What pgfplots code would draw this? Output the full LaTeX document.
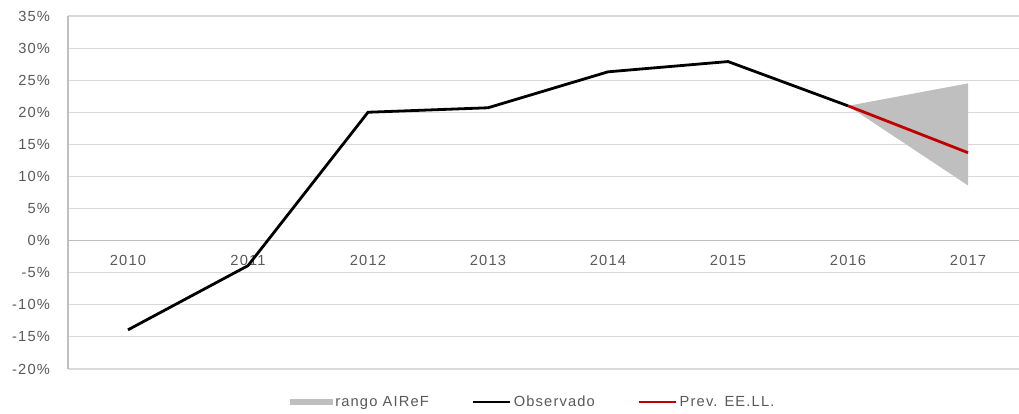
\documentclass[border=0pt]{standalone}
\usepackage{pgfplots}
\pgfplotsset{compat=1.18}
\usepackage{fontspec}
\setmainfont{Liberation Sans}[LetterSpace=8]
\usetikzlibrary{calc}
\definecolor{txtgray}{HTML}{595959}
\definecolor{gridgray}{HTML}{D9D9D9}
\definecolor{axgray}{HTML}{BFBFBF}
\definecolor{bandgray}{HTML}{BFBFBF}
\definecolor{prevred}{HTML}{C00000}

\begin{document}
\begin{tikzpicture}
\begin{axis}[
  scale only axis,
  width=713.25pt, height=264.75pt,
  font=\fontsize{11}{13}\selectfont,
  /pgf/number format/assume math mode=true,
  xmin=-0.5, xmax=7.425,
  ymin=-20, ymax=35,
  axis x line*=middle, axis y line*=left,
  hide obscured x ticks=false, hide obscured y ticks=false,
  axis line style={draw=axgray, line width=0.8pt, -},
  xtick={0,...,7},
  xticklabels={2010,2011,2012,2013,2014,2015,2016,2017},
  ytick={-20,-15,...,35},
  yticklabels={-20\%,-15\%,-10\%,-5\%,0\%,5\%,10\%,15\%,20\%,25\%,30\%,35\%},
  major tick length=0pt,
  tick label style={text=txtgray},
  xticklabel style={yshift=-7.5pt},
  yticklabel style={xshift=-10pt},
  ymajorgrids, grid style={gridgray, line width=0.8pt},
  legend style={at={(0.4895,-0.0935)}, anchor=center, draw=none, fill=none,
    legend columns=3, text=txtgray,
    /tikz/every even column/.append style={column sep=30pt}},
  legend cell align=left,
  legend image code/.code={\draw[#1, line width=1.6pt] (0pt,0pt) -- (28pt,0pt);},
]
\addplot[fill=bandgray, draw=none,
  legend image code/.code={\fill[bandgray] (0pt,-2.3pt) rectangle (32pt,2.3pt);}]
  coordinates {(6,21.0) (7,24.5) (7,8.6)} -- cycle;
\addlegendentry{rango AIReF}
\addplot[black, line width=2.1pt] coordinates {
  (0,-13.9) (1,-3.9) (2,20.0) (3,20.7) (4,26.3) (5,27.9) (6,21.0)};
\addlegendentry{Observado}
\addplot[prevred, line width=2.1pt] coordinates {(6,21.0) (7,13.7)};
\addlegendentry{Prev. EE.LL.}
\end{axis}
\pgfresetboundingbox
\path[use as bounding box] ($(current axis.south west)+(-51pt,-33.75pt)$) rectangle ($(current axis.north east)+(0pt,12pt)$);
\end{tikzpicture}
\end{document}
